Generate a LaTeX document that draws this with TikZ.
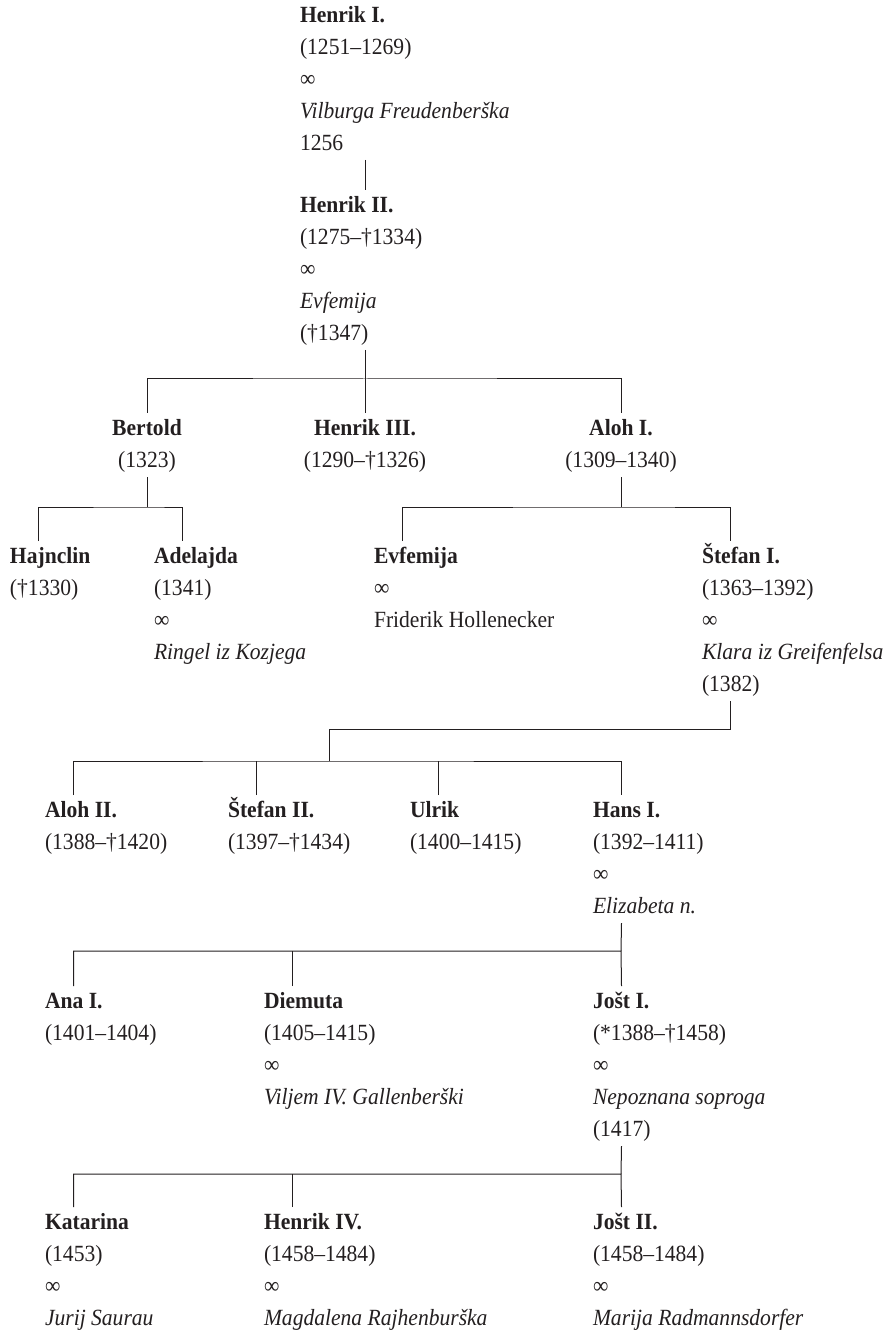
\documentclass[tikz,border=0pt]{standalone}
\usepackage{fontspec}
\setmainfont{Liberation Serif}[FakeStretch=0.93]
\usepackage{xcolor}
\usepackage{tikz}
\usetikzlibrary{calc}

\definecolor{ink}{RGB}{35,31,32}
% struts on the first and the last line of an entry
\newcommand{\kin}[1]{\strut#1\strut}

\tikzset{
    person/.style={anchor=north west, align=left, inner sep=0pt, outer sep=0pt,
        text=ink, font=\fontsize{11.6pt}{16pt}\selectfont},
    cperson/.style={person, anchor=north, align=center},
    tie/.style={draw=ink, line width=0.5pt}
}

\begin{document}
\begin{tikzpicture}[x=0.5pt, y=-0.5pt]
        \useasboundingbox (0,0) rectangle (883,1331);

        % Henrik I and Henrik II
        \node[person] (h1) at (300,0) {\kin{\textbf{Henrik I.}\\(1251–1269)\\∞\\\textit{Vilburga Freudenberška}\\1256}};
        \node[person] (h2) at (300,190) {\kin{\textbf{Henrik II.}\\(1275–†1334)\\∞\\\textit{Evfemija}\\(†1347)}};

        % their sons
        \node[cperson] (bertold) at (147,413) {\kin{\textbf{Bertold}\\(1323)}};
        \node[cperson] (henrik3) at (365,413) {\kin{\textbf{Henrik III.}\\(1290–†1326)}};
        \node[cperson] (aloh1) at (621,413) {\kin{\textbf{Aloh I.}\\(1309–1340)}};

        % grandchildren
        \node[person] (hajnclin) at (10,541) {\kin{\textbf{Hajnclin}\\(†1330)}};
        \node[person] (adelajda) at (154,541) {\kin{\textbf{Adelajda}\\(1341)\\∞\\\textit{Ringel iz Kozjega}}};
        \node[person] (evfemija) at (374,541) {\kin{\textbf{Evfemija}\\∞\\Friderik Hollenecker}};
        \node[person] (stefan1) at (702,541) {\kin{\textbf{Štefan I.}\\(1363–1392)\\∞\\\textit{Klara iz Greifenfelsa}\\(1382)}};

        % children of Stefan I
        \node[person] (aloh2) at (45,795) {\kin{\textbf{Aloh II.}\\(1388–†1420)}};
        \node[person] (stefan2) at (228,795) {\kin{\textbf{Štefan II.}\\(1397–†1434)}};
        \node[person] (ulrik) at (410,795) {\kin{\textbf{Ulrik}\\(1400–1415)}};
        \node[person] (hans1) at (593,795) {\kin{\textbf{Hans I.}\\(1392–1411)\\∞\\\textit{Elizabeta n.}}};

        % children of Hans I
        \node[person] (ana1) at (45,986) {\kin{\textbf{Ana I.}\\(1401–1404)}};
        \node[person] (diemuta) at (264,986) {\kin{\textbf{Diemuta}\\(1405–1415)\\∞\\\textit{Viljem IV. Gallenberški}}};
        \node[person] (jost1) at (593,986) {\kin{\textbf{Jošt I.}\\(*1388–†1458)\\∞\\\textit{Nepoznana soproga}\\(1417)}};

        % children of Jost I
        \node[person] (katarina) at (45,1207) {\kin{\textbf{Katarina}\\(1453)\\∞\\\textit{Jurij Saurau}}};
        \node[person] (henrik4) at (264,1207) {\kin{\textbf{Henrik IV.}\\(1458–1484)\\∞\\\textit{Magdalena Rajhenburška}}};
        \node[person] (jost2) at (593,1207) {\kin{\textbf{Jošt II.}\\(1458–1484)\\∞\\\textit{Marija Radmannsdorfer}}};

        % line ends of the left aligned nodes
        \foreach \n in {hajnclin,adelajda,evfemija,stefan1,aloh2,stefan2,ulrik,hans1,ana1,diemuta,jost1,katarina,henrik4,jost2} {
            \coordinate (\n-in) at ([xshift=14.25pt]\n.north west);
            \coordinate (\n-out) at ([xshift=14.25pt]\n.south west);
        }

        % junctions
        \coordinate (j2) at (365,379);
        \coordinate (j3) at (147,507);
        \coordinate (j4) at (621,507);
        \coordinate (j5) at (329,729);
        \coordinate (j6) at (329,761);
        \coordinate (j7) at (621,951);
        \coordinate (j8) at (621,1174);

        \draw[tie] (h1.south -| henrik3) -- (h2.north -| henrik3);
        \draw[tie] (h2.south -| henrik3) -- (henrik3.north);
        \draw[tie] (bertold.north) |- (j2) -| (aloh1.north);

        \draw[tie] (bertold.south) -- (j3);
        \draw[tie] (hajnclin-in) |- (j3) -| (adelajda-in);

        \draw[tie] (aloh1.south) -- (j4);
        \draw[tie] (evfemija-in) |- (j4) -| (stefan1-in);

        \draw[tie] (stefan1-out) |- (j5) -- (j6);
        \draw[tie] (aloh2-in) |- (j6) -| (hans1-in);
        \draw[tie] (stefan2-in) -- (stefan2-in |- j6);
        \draw[tie] (ulrik-in) -- (ulrik-in |- j6);

        \draw[tie] (hans1-out) -- (j7);
        \draw[tie] (ana1-in) |- (j7) -- (jost1-in);
        \draw[tie] (diemuta-in) -- (diemuta-in |- j7);

        \draw[tie] (jost1-out) -- (j8);
        \draw[tie] (katarina-in) |- (j8) -- (jost2-in);
        \draw[tie] (henrik4-in) -- (henrik4-in |- j8);
    \end{tikzpicture}
\end{document}
